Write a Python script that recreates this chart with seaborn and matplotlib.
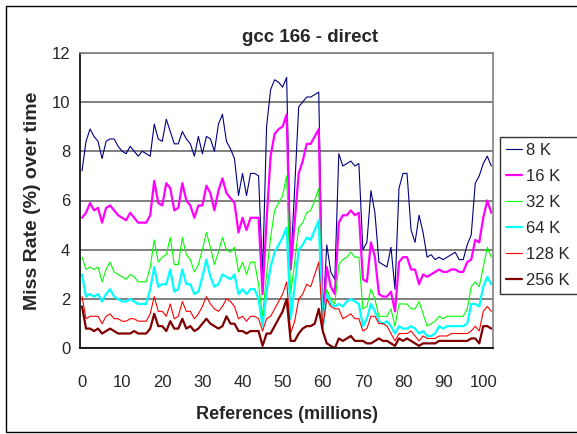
import numpy as np
import pandas as pd
import matplotlib
matplotlib.use("Agg")
import matplotlib.pyplot as plt
from matplotlib.patches import Rectangle
from matplotlib.ticker import FixedLocator
import seaborn as sns

# Miss rate (%) per million references, one series per cache size
references = list(range(103))
x_tick_labels = ["0", "10", "20", "30", "40", "50", "60", "70", "80", "90", "100"]
cache_sizes = ["8 K", "16 K", "32 K", "64 K", "128 K", "256 K"]

miss_8k = [7.2, 8.4, 8.9, 8.6, 8.4, 7.7, 8.4, 8.5, 8.5, 8.2,
           8.0, 7.9, 8.2, 8.0, 7.8, 8.0, 7.9, 7.8, 9.1, 8.5,
           8.4, 9.3, 8.8, 8.3, 8.3, 8.8, 8.5, 8.3, 7.8, 8.6,
           7.9, 8.6, 8.5, 8.0, 9.1, 9.5, 8.4, 8.1, 7.7, 6.2,
           7.1, 6.2, 7.1, 7.1, 7.0, 3.0, 9.0, 10.5, 10.9, 10.8,
           10.6, 11.0, 3.3, 6.5, 9.8, 10.0, 10.2, 10.2, 10.3, 10.4,
           1.2, 4.2, 3.1, 2.8, 7.9, 7.4, 7.5, 7.6, 7.4, 7.5,
           4.0, 4.3, 6.4, 5.5, 3.5, 3.4, 3.3, 4.1, 2.4, 6.5,
           7.1, 7.1, 4.8, 4.3, 5.4, 4.7, 3.7, 3.8, 3.6, 3.7,
           3.6, 3.7, 3.8, 3.9, 3.6, 3.6, 4.2, 4.6, 6.7, 7.0,
           7.5, 7.8, 7.4]
miss_16k = [5.3, 5.5, 5.9, 5.6, 5.7, 5.1, 5.7, 5.8, 5.6, 5.4,
            5.3, 5.2, 5.5, 5.3, 5.1, 5.1, 5.1, 5.4, 6.8, 5.9,
            5.8, 6.7, 6.5, 5.6, 5.7, 6.7, 6.0, 5.8, 5.3, 5.8,
            5.8, 6.6, 6.3, 5.6, 6.4, 6.9, 6.3, 6.1, 5.9, 4.7,
            5.3, 4.8, 5.3, 5.3, 5.3, 2.2, 5.2, 7.8, 8.7, 8.9,
            9.0, 9.5, 3.2, 5.1, 7.1, 7.6, 8.3, 8.3, 8.6, 8.9,
            1.0, 3.3, 2.5, 2.2, 5.1, 5.4, 5.4, 5.6, 5.4, 5.5,
            2.8, 2.7, 4.3, 3.7, 2.2, 2.1, 2.1, 2.3, 1.5, 3.5,
            3.7, 3.7, 3.2, 3.2, 2.6, 3.0, 2.9, 3.0, 3.1, 3.2,
            3.1, 3.1, 3.2, 3.2, 3.1, 3.1, 3.5, 3.6, 4.4, 4.3,
            5.3, 6.0, 5.5]
miss_32k = [3.7, 3.2, 3.3, 3.2, 3.3, 2.7, 3.2, 3.5, 3.1, 3.0,
            2.9, 2.8, 3.0, 2.9, 2.7, 2.7, 2.7, 3.3, 4.4, 3.5,
            3.7, 3.8, 4.5, 3.4, 3.4, 4.5, 3.8, 3.6, 3.1, 3.4,
            4.0, 4.7, 4.1, 3.4, 3.9, 4.5, 4.0, 3.9, 4.1, 3.1,
            3.5, 3.0, 3.5, 3.5, 2.6, 1.3, 3.0, 4.5, 5.6, 5.9,
            6.2, 7.0, 2.2, 3.5, 4.9, 5.1, 5.5, 5.6, 6.0, 6.5,
            0.9, 2.4, 2.0, 1.8, 3.4, 3.6, 3.7, 3.9, 3.7, 3.7,
            1.6, 1.7, 2.4, 2.0, 1.3, 1.3, 1.3, 1.6, 0.9, 1.8,
            1.8, 1.8, 1.6, 1.6, 1.9, 1.4, 0.9, 1.0, 1.1, 1.3,
            1.2, 1.3, 1.3, 1.3, 1.3, 1.3, 1.6, 2.5, 2.7, 2.5,
            3.3, 4.1, 3.7]
miss_64k = [3.0, 2.1, 2.2, 2.1, 2.2, 1.9, 2.2, 2.4, 2.1, 2.0,
            1.9, 1.9, 2.0, 1.9, 1.8, 1.8, 1.8, 2.4, 3.3, 2.5,
            2.6, 2.6, 3.2, 2.3, 2.4, 3.2, 2.6, 2.6, 2.2, 2.3,
            2.9, 3.6, 2.9, 2.5, 2.6, 3.0, 2.9, 2.8, 3.0, 2.2,
            2.4, 2.2, 2.4, 2.4, 2.0, 0.9, 2.3, 3.3, 3.9, 4.2,
            4.5, 4.9, 1.2, 2.5, 4.0, 4.2, 4.5, 4.4, 4.8, 5.2,
            0.8, 2.2, 1.8, 1.7, 1.8, 1.7, 1.9, 2.0, 1.9, 1.8,
            0.9, 1.2, 1.8, 1.5, 1.1, 1.0, 1.1, 0.9, 0.6, 0.9,
            0.8, 0.8, 0.9, 0.8, 0.6, 0.7, 0.5, 0.5, 0.6, 0.9,
            0.8, 0.9, 0.9, 0.9, 0.9, 0.9, 1.0, 1.8, 1.8, 1.7,
            2.5, 2.9, 2.6]
miss_128k = [2.1, 1.2, 1.3, 1.3, 1.3, 1.0, 1.3, 1.4, 1.2, 1.2,
             1.1, 1.1, 1.2, 1.2, 1.1, 1.1, 1.1, 1.4, 2.1, 1.5,
             1.5, 1.3, 1.8, 1.2, 1.3, 1.9, 1.5, 1.5, 1.2, 1.4,
             1.7, 2.1, 1.8, 1.6, 1.5, 1.7, 2.0, 1.9, 1.7, 1.2,
             1.3, 1.1, 1.3, 1.3, 1.2, 0.7, 1.2, 1.3, 1.6, 1.9,
             2.2, 2.7, 0.6, 1.1, 2.0, 2.2, 2.6, 2.5, 3.0, 3.5,
             0.9, 2.0, 1.7, 1.6, 1.6, 1.2, 1.3, 1.4, 1.2, 1.2,
             0.7, 0.8, 1.3, 1.3, 1.0, 1.0, 0.9, 0.6, 0.3, 0.6,
             0.6, 0.6, 0.7, 0.5, 0.3, 0.5, 0.4, 0.4, 0.4, 0.5,
             0.5, 0.5, 0.6, 0.6, 0.6, 0.6, 0.6, 0.7, 0.9, 0.7,
             1.5, 1.7, 1.5]
miss_256k = [1.7, 0.8, 0.8, 0.7, 0.8, 0.6, 0.7, 0.8, 0.7, 0.6,
             0.6, 0.6, 0.6, 0.7, 0.6, 0.6, 0.6, 0.8, 1.4, 0.9,
             0.9, 0.7, 1.1, 0.8, 0.8, 1.2, 0.8, 0.9, 0.7, 0.8,
             1.0, 1.2, 1.0, 0.9, 0.8, 0.9, 1.3, 1.0, 1.0, 0.7,
             0.7, 0.6, 0.7, 0.7, 0.7, 0.1, 0.6, 0.6, 0.9, 1.2,
             1.5, 2.0, 0.3, 0.3, 0.6, 0.8, 0.9, 0.9, 1.0, 1.6,
             0.7, 0.2, 0.1, 0.0, 0.4, 0.3, 0.4, 0.5, 0.3, 0.3,
             0.3, 0.2, 0.2, 0.3, 0.4, 0.3, 0.3, 0.2, 0.1, 0.4,
             0.3, 0.4, 0.3, 0.2, 0.1, 0.2, 0.2, 0.2, 0.2, 0.3,
             0.3, 0.3, 0.3, 0.3, 0.3, 0.3, 0.3, 0.4, 0.4, 0.2,
             0.9, 0.9, 0.8]

series = [miss_8k, miss_16k, miss_32k, miss_64k, miss_128k, miss_256k]
colors = ["#000080", "#FF00FF", "#00FF00", "#00FFFF", "#FF0000", "#800000"]
widths = [0.8, 1.6, 0.8, 1.6, 0.8, 1.6]

df = pd.concat(
    [pd.DataFrame({"ref": references, "miss": vals, "cache": name})
     for name, vals in zip(cache_sizes, series)],
    ignore_index=True,
)

sns.set_theme(style="white")
plt.rcParams["font.family"] = ["Liberation Sans", "DejaVu Sans"]

fig = plt.figure(figsize=(5.77, 4.34), dpi=100)
W, H = 577, 434
ax = fig.add_axes([80 / W, (H - 348.3) / H, 413.3 / W, 295.6 / H])

for name, col, lw in zip(cache_sizes, colors, widths):
    sns.lineplot(data=df[df["cache"] == name], x="ref", y="miss",
                 color=col, linewidth=lw, label=name, ax=ax,
                 estimator=None, sort=False)

ax.set_xlim(-0.5, 102.5)
ax.set_ylim(0, 12)
ax.set_yticks(range(0, 13, 2))
ax.tick_params(axis="y", labelsize=12, length=4, width=1, direction="out",
               color="black", pad=3)
# labels sit under the category, tick marks on the category boundaries
label_pos = [int(t) for t in x_tick_labels]
ax.set_xticks(label_pos)
ax.set_xticklabels(x_tick_labels)
ax.tick_params(axis="x", which="major", labelsize=12, length=0, pad=19)
ax.xaxis.set_minor_locator(FixedLocator([p - 0.5 for p in label_pos]))
ax.tick_params(axis="x", which="minor", length=5, width=1, direction="in",
               color="#808080")

ax.grid(axis="y", color="#808080", linewidth=1.4)
ax.set_axisbelow(True)
for side in ["top", "right"]:
    ax.spines[side].set_color("#808080")
    ax.spines[side].set_linewidth(1.2)
for side in ["left", "bottom"]:
    ax.spines[side].set_color("black")
    ax.spines[side].set_linewidth(1.2)

fig.text(310 / W, 1 - 38 / H, "gcc 166 - direct", fontsize=13.5,
         fontweight="bold", ha="center", va="center")
ax.set_xlabel("References (millions)", fontsize=13, fontweight="bold",
              labelpad=12)
ax.set_ylabel("Miss Rate (%) over time", fontsize=14, fontweight="bold",
              labelpad=8)

leg = ax.legend(loc="upper left", bbox_to_anchor=(500 / W, 1 - 137 / H, 90 / W, 0),
                bbox_transform=fig.transFigure, mode="expand", fontsize=12,
                frameon=True, fancybox=False, edgecolor="black",
                handlelength=0.95, handletextpad=0.25, labelspacing=0.66,
                borderpad=0.36, borderaxespad=0)
leg.get_frame().set_linewidth(1.0)

# chart-area border
fig.patches.append(Rectangle((6 / W, 2 / H), 1.0, 1 - 8 / H,
                             transform=fig.transFigure, fill=False,
                             edgecolor="black", linewidth=1.0))

fig.savefig("out.png", dpi=100)
